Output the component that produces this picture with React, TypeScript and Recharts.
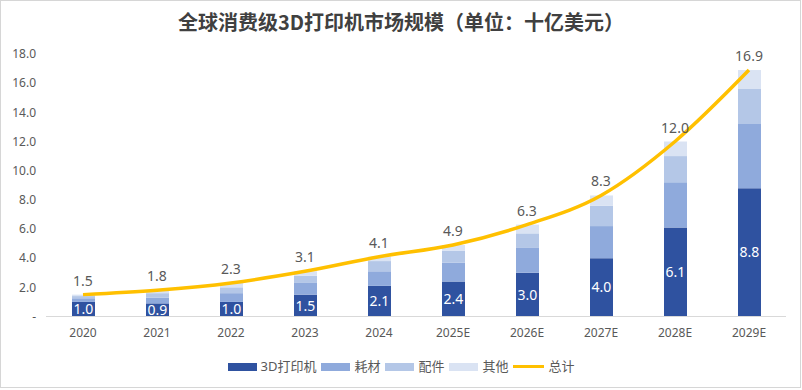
import { Bar, ComposedChart, LabelList, Line, XAxis, YAxis } from "recharts";

const years = ["2020", "2021", "2022", "2023", "2024", "2025E", "2026E", "2027E", "2028E", "2029E"];
const printers = [1.0, 0.9, 1.0, 1.5, 2.1, 2.4, 3.0, 4.0, 6.1, 8.8];
const consumables = [0.25, 0.4, 0.6, 0.8, 1.0, 1.3, 1.7, 2.2, 3.1, 4.4];
const accessories = [0.15, 0.3, 0.4, 0.5, 0.7, 0.8, 1.0, 1.4, 1.8, 2.4];
const others = [0.1, 0.2, 0.3, 0.3, 0.3, 0.4, 0.6, 0.7, 1.0, 1.3];
const totals = [1.5, 1.8, 2.3, 3.1, 4.1, 4.9, 6.3, 8.3, 12.0, 16.9];
const yTicks = [0, 2, 4, 6, 8, 10, 12, 14, 16, 18];

const SERIES = [
  { key: "printers", name: "3D打印机", color: "#2F52A0" },
  { key: "consumables", name: "耗材", color: "#8FAADC" },
  { key: "accessories", name: "配件", color: "#B4C7E7" },
  { key: "others", name: "其他", color: "#DAE3F3" },
];
const LINE = { key: "total", name: "总计", color: "#FFC000" };

const FONT = "'Noto Sans', 'Noto Sans CJK SC', sans-serif";
const GREY = "#595959";

const data = years.map((year, i) => ({
  year,
  printers: printers[i],
  consumables: consumables[i],
  accessories: accessories[i],
  others: others[i],
  total: totals[i],
}));

const fmt = (v: unknown) => Number(v).toFixed(1);

function LegendRow() {
  return (
    <div
      style={{
        position: "absolute",
        left: 0,
        top: 358,
        width: 802,
        display: "flex",
        justifyContent: "center",
        alignItems: "center",
        fontFamily: FONT,
        fontSize: 13,
        color: GREY,
        lineHeight: "17px",
      }}
    >
      {SERIES.map((s) => (
        <div key={s.key} style={{ display: "flex", alignItems: "center", marginRight: 5 }}>
          <span style={{ width: 29, height: 8, background: s.color, marginRight: 4 }} />
          <span>{s.name}</span>
        </div>
      ))}
      <div style={{ display: "flex", alignItems: "center" }}>
        <span style={{ width: 31, height: 3, background: LINE.color, marginRight: 4 }} />
        <span>{LINE.name}</span>
      </div>
    </div>
  );
}

export default function App() {
  return (
    <div style={{ position: "absolute", left: 0, top: 0, width: 802, height: 390, background: "#fff" }}>
      <div
        style={{
          position: "absolute",
          left: 0,
          top: 0,
          width: 799,
          height: 386,
          border: "1px solid #D6D6D6",
        }}
      />
      <div
        style={{
          position: "absolute",
          left: 0,
          top: 8,
          width: 802,
          textAlign: "center",
          fontFamily: "'Noto Sans CJK SC', sans-serif",
          fontWeight: 700,
          fontSize: 20,
          lineHeight: "28px",
          color: "#404040",
        }}
      >
        全球消费级3D打印机市场规模（单位：十亿美元）
      </div>
      <ComposedChart
        width={802}
        height={390}
        data={data}
        margin={{ top: 54, right: 16, bottom: 43.5, left: 0 }}
        style={{ position: "absolute", left: 0, top: 0 }}
      >
        <XAxis
          dataKey="year"
          height={30}
          axisLine={{ stroke: "#D9D9D9" }}
          tickLine={false}
          tickSize={0}
          tickMargin={12}
          tick={{ fill: GREY, fontSize: 12, fontFamily: FONT }}
        />
        <YAxis
          width={46}
          domain={[0, 18]}
          ticks={yTicks}
          axisLine={false}
          tickLine={false}
          tickSize={0}
          tickMargin={10}
          tickFormatter={(v: number) => (v === 0 ? "-" : v.toFixed(1))}
          tick={{ fill: GREY, fontSize: 12, fontFamily: FONT }}
        />
        {SERIES.map((s, idx) => (
          <Bar
            key={s.key}
            dataKey={s.key}
            name={s.name}
            stackId="a"
            fill={s.color}
            barSize={23}
            isAnimationActive={false}
          >
            {idx === 0 && (
              <LabelList
                dataKey={s.key}
                position="center"
                formatter={fmt}
                fill="#FFFFFF"
                fontSize={14}
                fontFamily={FONT}
              />
            )}
          </Bar>
        ))}
        <Line
          dataKey={LINE.key}
          name={LINE.name}
          type="monotone"
          stroke={LINE.color}
          strokeWidth={3.5}
          dot={false}
          activeDot={false}
          isAnimationActive={false}
        >
          <LabelList
            dataKey={LINE.key}
            position="top"
            offset={9}
            formatter={fmt}
            fill={GREY}
            fontSize={14}
            fontFamily={FONT}
          />
        </Line>
      </ComposedChart>
      <LegendRow />
    </div>
  );
}
